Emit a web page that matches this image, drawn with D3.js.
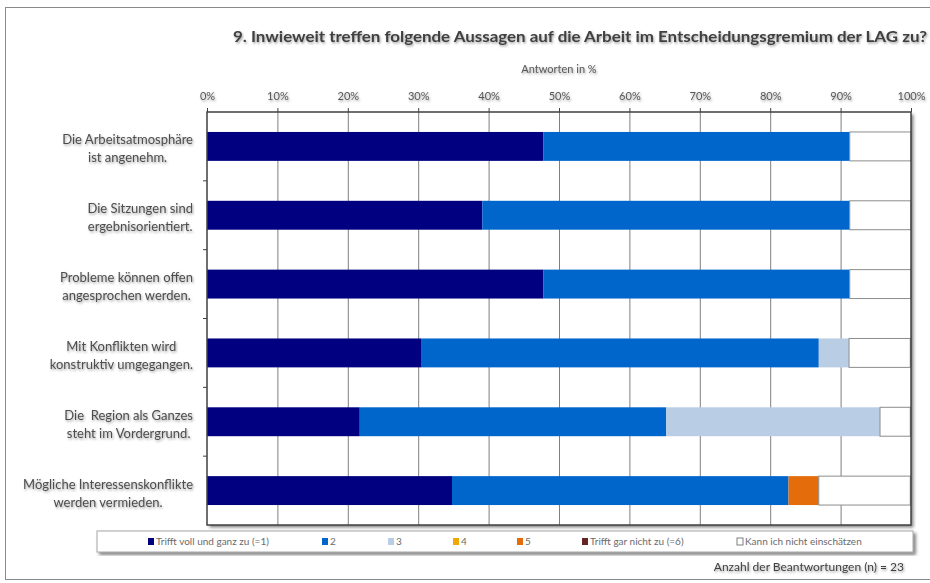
<!DOCTYPE html>
<html>
<head>
<meta charset="utf-8">
<script src="https://cdn.jsdelivr.net/npm/d3@7"></script>
<style>
  body { margin: 0; background: #fff; }
  svg { display: block; font-family: Lato, "Open Sans", sans-serif; }
  tspan, text { white-space: pre; }
</style>
</head>
<body>
<svg id="chart" width="930" height="583"></svg>
<script>
// categories (two-line labels)
var categories = [
  "Die Arbeitsatmosphäre|ist angenehm.",
  "Die Sitzungen sind|ergebnisorientiert.",
  "Probleme können offen|angesprochen werden.",
  "Mit Konflikten wird|konstruktiv umgegangen.",
  "Die  Region als Ganzes|steht im Vordergrund.",
  "Mögliche Interessenskonflikte|werden vermieden."
];
var seriesNames = ["Trifft voll und ganz zu (=1)", "2", "3", "4", "5", "Trifft gar nicht zu (=6)", "Kann ich nicht einschätzen"];
var seriesColors = ["#000080", "#0066cc", "#b9cde5", "#f0a800", "#e46c0a", "#632523", "#ffffff"];

// values in % (n = 23)
var s1 = [47.8, 39.1, 47.8, 30.4, 21.7, 34.8];
var s2 = [43.5, 52.2, 43.5, 56.5, 43.5, 47.8];
var s3 = [0, 0, 0, 4.3, 30.4, 0];
var s4 = [0, 0, 0, 0, 0, 0];
var s5 = [0, 0, 0, 0, 0, 4.3];
var s6 = [0, 0, 0, 0, 0, 0];
var s7 = [8.7, 8.7, 8.7, 8.7, 4.3, 13.0];
var seriesValues = [s1, s2, s3, s4, s5, s6, s7];

var xTicks = [0, 10, 20, 30, 40, 50, 60, 70, 80, 90, 100];

var title = "9. Inwieweit treffen folgende Aussagen auf die Arbeit im Entscheidungsgremium der LAG zu?";
var axisTitle = "Antworten in %";
var footNote = "Anzahl der Beantwortungen (n) = 23";

var svg = d3.select("#chart");
var defs = svg.append("defs");

// soft text shadow like the source
var tf = defs.append("filter").attr("id", "txtShadow")
  .attr("x", "-10%").attr("y", "-30%").attr("width", "120%").attr("height", "160%");
tf.append("feDropShadow").attr("dx", 1).attr("dy", 1.5).attr("stdDeviation", 1.3)
  .attr("flood-color", "#777").attr("flood-opacity", 0.7);

var bf = defs.append("filter").attr("id", "boxShadow")
  .attr("x", "-5%").attr("y", "-5%").attr("width", "110%").attr("height", "120%");
bf.append("feDropShadow").attr("dx", 2.5).attr("dy", 2.5).attr("stdDeviation", 1.5)
  .attr("flood-color", "#333").attr("flood-opacity", 0.6);

// outer frame
svg.append("rect")
  .attr("x", 5.5).attr("y", 7.5).attr("width", 940).attr("height", 572)
  .attr("fill", "none").attr("stroke", "#8a8a8a");

var x = d3.scaleLinear().domain([0, 100]).range([207, 911]);
var y = d3.scaleBand().domain(categories).range([112, 525])
  .paddingInner(0.58).paddingOuter(0.29);

// title
svg.append("text")
  .attr("x", 233).attr("y", 42)
  .attr("textLength", 694).attr("lengthAdjust", "spacingAndGlyphs")
  .style("font-size", "15.5px").style("font-weight", "bold")
  .attr("fill", "#404040").attr("filter", "url(#txtShadow)")
  .text(title);

svg.append("text")
  .attr("x", 559).attr("y", 73).attr("text-anchor", "middle")
  .style("font-size", "11px").attr("fill", "#595959")
  .attr("filter", "url(#txtShadow)")
  .text(axisTitle);

// plot frame with shadow
svg.append("rect")
  .attr("x", 207).attr("y", 112).attr("width", 704).attr("height", 413)
  .attr("fill", "#fff").attr("filter", "url(#boxShadow)");

// gridlines
svg.append("g").selectAll("line").data(xTicks.slice(1, -1)).join("line")
  .attr("x1", function(d){ return x(d) + 0.5; })
  .attr("x2", function(d){ return x(d) + 0.5; })
  .attr("y1", 112).attr("y2", 525)
  .attr("stroke", "#7f7f7f").attr("stroke-width", 1);

// stacked bars
var table = categories.map(function(c, i){
  var row = { cat: c };
  seriesNames.forEach(function(s, j){ row[s] = seriesValues[j][i]; });
  return row;
});
var stack = d3.stack().keys(seriesNames)(table);

svg.append("g").selectAll("g").data(stack).join("g")
  .attr("fill", function(d, i){ return seriesColors[i]; })
  .attr("stroke", function(d, i){ return i === 6 ? "#8c8c8c" : "none"; })
  .selectAll("rect")
  .data(function(d){ return d.filter(function(p){ return p[1] - p[0] > 0; }); })
  .join("rect")
  .attr("x", function(d){ return x(d[0]); })
  .attr("width", function(d){ return x(d[1]) - x(d[0]); })
  .attr("y", function(d){ return y(d.data.cat); })
  .attr("height", y.bandwidth());

// frame border
svg.append("rect")
  .attr("x", 207).attr("y", 112).attr("width", 704).attr("height", 413)
  .attr("fill", "none").attr("stroke", "#404040").attr("stroke-width", 1.5);

// top axis
var xAxis = svg.append("g")
  .attr("transform", "translate(0,112)")
  .call(d3.axisTop(x).tickValues(xTicks).tickSize(4).tickPadding(8)
    .tickFormat(function(d){ return d + "%"; }));
xAxis.select(".domain").remove();
xAxis.selectAll(".tick line").attr("stroke", "#404040");
xAxis.selectAll(".tick text")
  .style("font-size", "11px").style("font-family", "Lato, sans-serif")
  .attr("fill", "#595959").attr("filter", "url(#txtShadow)");

// left tick marks between categories
var step = y.step();
svg.append("g").selectAll("line").data(categories.slice(1)).join("line")
  .attr("x1", 203).attr("x2", 207)
  .attr("y1", function(d){ return y(d) - step * y.paddingInner() / 2; })
  .attr("y2", function(d){ return y(d) - step * y.paddingInner() / 2; })
  .attr("stroke", "#404040");

// category labels: block right-aligned, lines centred inside
var labelG = svg.append("g");
categories.forEach(function(c){
  var lines = c.split("|");
  var cy = y(c) + y.bandwidth() / 2;
  var t = labelG.append("text")
    .style("font-size", "13px").attr("fill", "#4d4d4d")
    .attr("filter", "url(#txtShadow)")
    .attr("text-anchor", "middle");
  lines.forEach(function(l, i){
    t.append("tspan").attr("y", cy - 2 + i * 18).text(l);
  });
  var maxW = 0;
  t.selectAll("tspan").each(function(){ maxW = Math.max(maxW, this.getComputedTextLength()); });
  t.selectAll("tspan").attr("x", 193 - maxW / 2);
});

// legend
svg.append("rect")
  .attr("x", 97).attr("y", 531).attr("width", 816).attr("height", 21)
  .attr("fill", "#fff").attr("stroke", "#a6a6a6").attr("filter", "url(#boxShadow)");

var legendX = [148, 322, 388, 453, 517, 582, 737];
var lg = svg.append("g").selectAll("g").data(seriesNames).join("g")
  .attr("transform", function(d, i){ return "translate(" + legendX[i] + ",538)"; });
lg.append("rect")
  .attr("width", 6).attr("height", 7)
  .attr("fill", function(d, i){ return seriesColors[i]; })
  .attr("stroke", function(d, i){ return i === 6 ? "#7f7f7f" : "none"; });
lg.append("text")
  .attr("x", 8).attr("y", 7)
  .style("font-size", "10px").attr("fill", "#6b6b6b")
  .text(function(d){ return d; });

svg.append("text")
  .attr("x", 904).attr("y", 571).attr("text-anchor", "end")
  .style("font-size", "12px").attr("fill", "#404040")
  .attr("filter", "url(#txtShadow)")
  .text(footNote);
</script>
</body>
</html>
